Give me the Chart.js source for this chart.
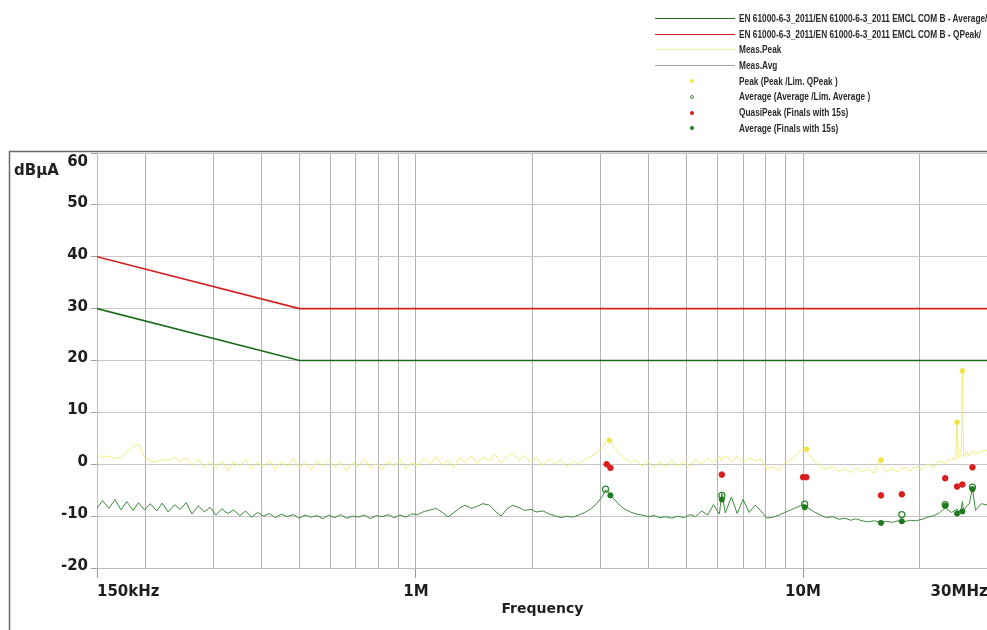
<!DOCTYPE html>
<html>
<head>
<meta charset="utf-8">
<script src="https://cdn.jsdelivr.net/npm/chart.js@4.4.1/dist/chart.umd.min.js"></script>
<style>
  body { margin: 0; background: #fff; }
  #wrap { position: relative; width: 987px; height: 630px; overflow: hidden; }
  #legend { position: absolute; left: 655px; top: 11px; font: bold 10px "Liberation Sans", sans-serif; color: #2a2a2a; }
  .row { position: relative; height: 15.7px; line-height: 15.7px; white-space: nowrap; padding-left: 84px; }
  .row .txt { display: inline-block; transform: scaleX(0.83); transform-origin: left center; }
  .sw { position: absolute; left: 0; top: 7px; width: 80px; height: 0; border-top: 1.5px solid; }
  .dot { position: absolute; left: 35px; top: 5.5px; width: 4px; height: 4px; border-radius: 50%; box-sizing: border-box; }
  #unit { position: absolute; left: 14px; top: 161px; font: bold 15px "DejaVu Sans", sans-serif; color: #222; }
</style>
</head>
<body>
<div id="wrap">
  <canvas id="emcChart" width="993" height="630"></canvas>
  <div id="unit">dBµA</div>
  <div id="legend">
    <div class="row"><span class="sw" style="border-color:#1e6b1e"></span><span class="txt">EN 61000-6-3_2011/EN 61000-6-3_2011 EMCL COM B - Average/</span></div>
    <div class="row"><span class="sw" style="border-color:#d42020"></span><span class="txt">EN 61000-6-3_2011/EN 61000-6-3_2011 EMCL COM B - QPeak/</span></div>
    <div class="row"><span class="sw" style="border-color:#f4f0a0;border-top-width:1px"></span><span class="txt">Meas.Peak</span></div>
    <div class="row"><span class="sw" style="border-color:#9aa89a;border-top-width:1px"></span><span class="txt">Meas.Avg</span></div>
    <div class="row"><span class="dot" style="background:#efe84a"></span><span class="txt">Peak  (Peak /Lim. QPeak )</span></div>
    <div class="row"><span class="dot" style="border:1px solid #3a8f3a"></span><span class="txt">Average  (Average /Lim. Average )</span></div>
    <div class="row"><span class="dot" style="background:#d81e1e"></span><span class="txt">QuasiPeak (Finals with 15s)</span></div>
    <div class="row"><span class="dot" style="background:#1f7a1f"></span><span class="txt">Average (Finals with 15s)</span></div>
  </div>
</div>
<script>
// frequencies in MHz
const freqMHz = [
  0.150, 0.155, 0.161, 0.167, 0.173, 0.179, 0.186, 0.192, 0.199, 0.206,
  0.214, 0.221, 0.229, 0.238, 0.246, 0.255, 0.264, 0.274, 0.284, 0.294,
  0.304, 0.315, 0.327, 0.338, 0.351, 0.363, 0.376, 0.390, 0.404, 0.418,
  0.433, 0.449, 0.465, 0.482, 0.499, 0.517, 0.535, 0.555, 0.575, 0.595,
  0.617, 0.639, 0.662, 0.686, 0.710, 0.736, 0.762, 0.790, 0.818, 0.848,
  0.878, 0.910, 0.942, 0.976, 1.01, 1.05, 1.09, 1.13, 1.17, 1.21,
  1.25, 1.30, 1.34, 1.39, 1.44, 1.49, 1.55, 1.60, 1.66, 1.72,
  1.78, 1.85, 1.91, 1.98, 2.05, 2.13, 2.21, 2.28, 2.37, 2.45,
  2.54, 2.63, 2.73, 2.83, 2.93, 3.03, 3.10, 3.16, 3.22, 3.33,
  3.45, 3.58, 3.71, 3.84, 3.98, 4.12, 4.27, 4.42, 4.58, 4.75,
  4.92, 5.10, 5.28, 5.47, 5.67, 5.87, 6.08, 6.17, 6.30, 6.53,
  6.76, 7.00, 7.26, 7.52, 7.79, 8.07, 8.36, 8.66, 8.97, 9.30,
  9.63, 9.98, 10.1, 10.3, 10.7, 11.1, 11.5, 11.9, 12.4, 12.8,
  13.3, 13.7, 14.2, 14.7, 15.3, 15.8, 16.4, 17.0, 17.6, 18.2,
  18.9, 19.6, 20.3, 21.0, 21.8, 22.5, 23.3, 24.2, 24.8, 25.0,
  25.2, 25.6, 25.8, 26.0, 26.5, 26.9, 27.4, 27.9, 28.9, 30.0
];
const measPeak = [
  1.8, 1.3, 1.6, 1.1, 1.5, 2.4, 3.4, 3.9, 1.3, 0.6,
  0.4, 1.0, 0.7, 1.4, 0.5, 1.2, -0.2, 0.9, -0.6, 0.5,
  -0.8, 0.6, -1.2, 0.4, -0.3, 0.9, -0.9, 0.3, -0.5, 0.7,
  -1.0, 0.5, -0.4, 1.1, -0.7, 0.4, -1.1, 0.6, -0.3, 0.8,
  -0.6, 0.5, -1.3, 0.3, -0.5, 1.0, -0.8, 0.2, -1.0, 0.6,
  -0.4, 0.9, -0.9, 0.3, -0.2, 1.2, 0.1, 1.5, -0.3, 0.8,
  -0.6, 1.3, 0.4, 1.6, 0.2, 1.4, 0.7, 1.9, 0.3, 1.5,
  2.2, 0.8, 1.7, 0.4, 1.3, -0.2, 1.0, 0.1, 0.8, -0.4,
  0.6, 0.0, 0.9, 1.4, 2.3, 3.4, 4.3, 4.8, 3.6, 2.4,
  1.2, 0.3, 0.9, -0.4, 0.6, -0.7, 0.4, -0.5, 0.8, -0.3,
  0.5, -0.4, 0.9, 0.1, 1.2, 0.4, 1.5, 0.6, 1.7, 0.5,
  1.6, 0.4, 1.3, 0.6, 1.1, -1.0, -0.4, -1.2, 0.2, 0.9,
  1.8, 2.9, 3.0, 2.2, 0.6, -0.5, -1.0, -0.4, -1.4, -0.8,
  -1.6, -0.7, -1.5, -0.9, -1.7, 0.8, -1.6, -0.8, -1.5, -0.6,
  -1.3, -0.4, -1.0, 0.1, -0.6, 0.6, 0.2, 1.3, 0.9, 8.1,
  1.2, 1.6, 18.0, 1.4, 2.4, 1.6, 2.8, 1.9, 2.5, 2.7
];
const measAvg = [
  -8.5, -7.0, -8.5, -6.8, -8.8, -7.2, -8.9, -7.4, -8.8, -7.6,
  -9.0, -7.5, -9.2, -7.8, -8.7, -7.4, -9.6, -8.0, -9.2, -8.3,
  -9.8, -8.6, -9.5, -8.8, -9.9, -9.0, -10.2, -9.3, -10.0, -9.5,
  -10.3, -9.6, -10.1, -9.7, -10.4, -9.8, -10.2, -9.9, -10.5, -9.8,
  -10.3, -9.7, -10.4, -10.0, -10.2, -9.8, -10.5, -9.9, -10.1, -9.7,
  -10.3, -9.8, -10.2, -9.6, -9.7, -9.1, -8.8, -8.5, -9.3, -10.1,
  -9.4, -8.4, -7.9, -8.5, -8.1, -7.6, -7.9, -9.0, -10.0, -8.6,
  -7.9, -8.4, -8.9, -8.7, -9.2, -9.0, -9.6, -9.9, -10.3, -10.0,
  -10.2, -9.8, -9.3, -8.6, -7.6, -6.2, -4.9, -5.6, -6.4, -7.6,
  -8.6, -9.2, -9.6, -9.8, -10.1, -9.9, -10.3, -10.1, -10.4, -10.0,
  -10.3, -9.7, -10.1, -9.0, -9.8, -7.8, -9.6, -5.6, -9.4, -6.3,
  -9.5, -6.8, -9.3, -7.9, -9.0, -10.4, -10.2, -9.8, -9.3, -8.8,
  -8.3, -7.8, -7.9, -8.4, -9.2, -9.8, -10.3, -10.1, -10.6, -10.4,
  -10.8, -10.5, -10.9, -11.1, -10.9, -11.2, -11.0, -11.2, -10.9, -11.1,
  -10.8, -10.9, -10.6, -10.2, -9.9, -9.4, -8.4, -9.3, -8.8, -8.6,
  -9.2, -8.7, -7.2, -9.0, -8.0, -7.6, -4.6, -8.9, -7.6, -7.9
];

// limit lines
const limitFreq = [0.15, 0.5, 30];
const limitQPeak = [40, 30, 30];
const limitAvg = [30, 20, 20];

// markers
const peakFreq = [3.16, 10.2, 15.9, 25.0, 25.8];
const peakVal = [4.6, 2.9, 0.8, 8.1, 18.0];
const avgPreFreq = [3.09, 6.17, 10.1, 18.0, 23.3, 27.4];
const avgPreVal = [-4.8, -6.0, -7.7, -9.7, -7.8, -4.4];
const qpFreq = [3.11, 3.18, 6.17, 10.0, 10.2, 15.9, 18.0, 23.3, 25.0, 25.8, 27.4];
const qpVal = [0.0, -0.7, -2.0, -2.5, -2.5, -6.0, -5.8, -2.7, -4.3, -3.9, -0.6];
const avgFinFreq = [3.18, 6.17, 10.1, 15.9, 18.0, 23.3, 25.0, 25.8, 27.4];
const avgFinVal = [-6.0, -6.8, -8.3, -11.3, -11.0, -8.0, -9.5, -9.1, -4.8];

// axis ticks
const gridFreqs = [0.15, 0.2, 0.3, 0.4, 0.5, 0.6, 0.7, 0.8, 0.9, 1, 2, 3, 4, 5, 6, 7, 8, 9, 10, 20, 30];
const labelFreqs = [0.15, 1, 10, 30];
const labelTexts = ['150kHz', '1M', '10M', '30MHz'];

function pts(xs, ys) {
  return xs.map((x, i) => ({ x: x, y: ys[i] }));
}
function labelOf(v) {
  const i = labelFreqs.findIndex(f => Math.abs(f - v) < 1e-6);
  return i < 0 ? '' : labelTexts[i];
}

const framePlugin = {
  id: 'frame',
  afterDraw(c) {
    const g = c.ctx;
    g.save();
    g.strokeStyle = '#6a6a6a';
    g.lineWidth = 1.5;
    g.beginPath();
    g.moveTo(9.5, 630);
    g.lineTo(9.5, 151.5);
    g.lineTo(993, 151.5);
    g.stroke();
    g.restore();
  }
};

const tickFont = { family: 'DejaVu Sans', size: 15, weight: 'bold', lineHeight: 1.5 };

new Chart(document.getElementById('emcChart'), {
  type: 'scatter',
  data: {
    datasets: [
      { label: 'QuasiPeak (Finals with 15s)', data: pts(qpFreq, qpVal), backgroundColor: '#d81e1e', borderColor: '#d81e1e', pointRadius: 2.8, order: 0 },
      { label: 'Average (Finals with 15s)', data: pts(avgFinFreq, avgFinVal), backgroundColor: '#1f7a1f', borderColor: '#1f7a1f', pointRadius: 2.6, order: 1 },
      { label: 'Average (Average /Lim. Average )', data: pts(avgPreFreq, avgPreVal), backgroundColor: 'rgba(255,255,255,0)', borderColor: '#2f8a2f', borderWidth: 1.3, pointRadius: 3, order: 2 },
      { label: 'Peak (Peak /Lim. QPeak )', data: pts(peakFreq, peakVal), backgroundColor: '#eee447', borderColor: '#eee447', pointRadius: 2.4, order: 3 },
      { label: 'QPeak limit', data: pts(limitFreq, limitQPeak), showLine: true, borderColor: '#d42020', borderWidth: 1.6, pointRadius: 0, order: 4 },
      { label: 'Average limit', data: pts(limitFreq, limitAvg), showLine: true, borderColor: '#1e6b1e', borderWidth: 1.6, pointRadius: 0, order: 5 },
      { label: 'Meas.Avg', data: pts(freqMHz, measAvg), showLine: true, borderColor: '#3d8a3d', borderWidth: 1, pointRadius: 0, order: 6 },
      { label: 'Meas.Peak', data: pts(freqMHz, measPeak), showLine: true, borderColor: '#f2ed7a', borderWidth: 1, pointRadius: 0, order: 7 }
    ]
  },
  options: {
    responsive: false,
    animation: false,
    layout: { padding: { top: 153, right: 0, bottom: 12, left: 0 } },
    plugins: { legend: { display: false }, tooltip: { enabled: false } },
    scales: {
      x: {
        type: 'logarithmic',
        min: 0.15,
        max: 30,
        afterBuildTicks: s => { s.ticks = gridFreqs.map(v => ({ value: v })); },
        afterFit: s => { s.height = 50; },
        ticks: {
          autoSkip: false,
          maxRotation: 0,
          align: 'inner',
          padding: 3,
          color: '#1e1e1e',
          font: tickFont,
          callback: v => labelOf(v)
        },
        grid: {
          color: '#b4b4b4',
          tickLength: 10,
          tickColor: c => (c.tick && labelOf(c.tick.value) ? '#9a9a9a' : 'rgba(0,0,0,0)')
        },
        border: { color: '#bdbdbd' },
        title: {
          display: true,
          text: 'Frequency',
          color: '#1e1e1e',
          font: { family: 'DejaVu Sans', size: 14, weight: 'bold' },
          padding: { top: 0, bottom: 0 }
        }
      },
      y: {
        min: -20,
        max: 60,
        afterFit: s => { s.width = 97; },
        ticks: {
          stepSize: 10,
          autoSkip: false,
          labelOffset: -2,
          padding: 3,
          color: '#1e1e1e',
          font: tickFont,
          callback: v => (v === 60 ? ['', '60'] : String(v))
        },
        grid: { color: '#c6c6c6', tickLength: 6, tickColor: '#a0a0a0' },
        border: { color: '#bdbdbd' }
      }
    }
  },
  plugins: [framePlugin]
});
</script>
</body>
</html>
